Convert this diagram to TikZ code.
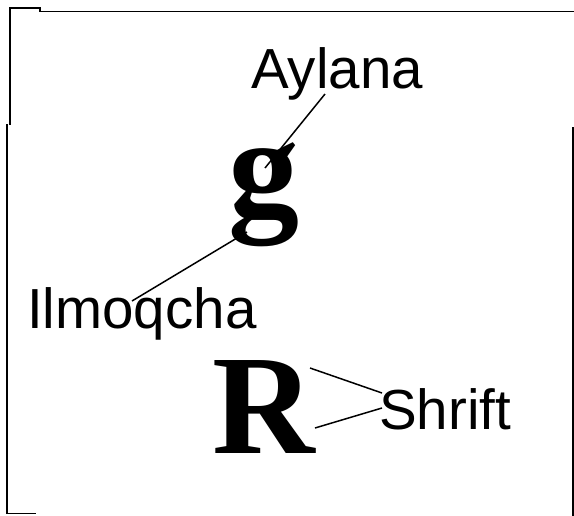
\documentclass[tikz,border=0pt]{standalone}
\usepackage{fontspec}
\setmainfont{Liberation Serif}
\newfontfamily\labelfont{Liberation Sans}
\begin{document}
\begin{tikzpicture}[x=1pt,y=-1pt,
  lbl/.style={inner sep=0pt,anchor=base west,font=\labelfont\fontsize{56.5}{56.5}\selectfont},
  big/.style={inner sep=0pt,anchor=base west,font=\fontsize{142}{142}\selectfont\bfseries},
  frame/.style={line width=1.8pt,line cap=rect},
  lead/.style={line width=1.5pt}]
\useasboundingbox (0,0) rectangle (574,515);
% frame
\draw[frame] (10,124) -- (10,8) -- (40,8) -- (40,11.5) -- (574,11.5);
\draw[frame] (7,125) -- (7,513.5) -- (35,513.5);
\draw[frame] (573,128) -- (573,515);
% texts
\node[lbl] (aylana) at (251,88) {Aylana};
\node[big] (g) at (228,215) {g};
\node[lbl] (ilmoqcha) at (27,328) {Ilmoqcha};
\node[big] (R) at (212,453) {R};
\node[lbl] (shrift) at (379,429) {Shrift};
% connector points
\coordinate (a1) at (325,94);
\coordinate (a2) at (265,168);
\coordinate (i1) at (247,232);
\coordinate (i2) at (132,301);
\coordinate (s1) at (310,368);
\coordinate (s2) at (382,393);
\coordinate (s3) at (382,408);
\coordinate (s4) at (315,428);
\draw[lead] (a1) -- (a2);
\draw[lead] (i1) -- (i2);
\draw[lead] (s1) -- (s2);
\draw[lead] (s3) -- (s4);
\end{tikzpicture}
\end{document}
